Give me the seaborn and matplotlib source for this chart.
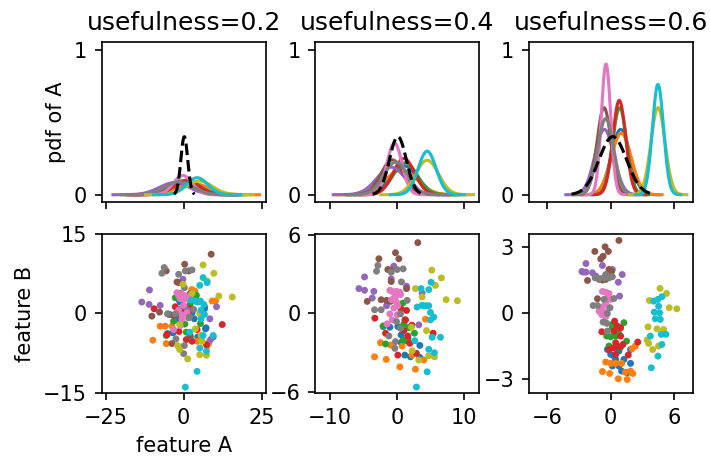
import numpy as np
import pandas as pd
import matplotlib
matplotlib.use("Agg")
import matplotlib.pyplot as plt
import seaborn as sns

# ---------------- data ----------------
usefulness = [0.2, 0.4, 0.6]
classes = ["c0", "c1", "c2", "c3", "c4", "c5", "c6", "c7", "c8", "c9"]

# class-conditional normal pdf parameters of feature A
means_02 = [1.0, 3.0, 1.0, 1.0, -3.0, -1.0, -0.3, -1.5, 5.0, 4.3]
sds_02 = [4.5, 5.2, 4.2, 4.0, 4.8, 4.2, 3.0, 4.5, 4.2, 3.4]
means_04 = [1.0, 0.6, 1.2, 1.0, -0.9, -0.74, -0.4, -0.2, 4.46, 4.46]
sds_04 = [2.0, 2.35, 1.81, 1.6, 2.1, 1.66, 1.12, 1.77, 1.68, 1.33]
means_06 = [0.94, 1.0, 0.85, 0.81, -0.6, -0.63, -0.44, -0.47, 4.47, 4.47]
sds_06 = [0.886, 0.94, 0.665, 0.614, 0.886, 0.665, 0.443, 0.76, 0.665, 0.525]

# black dashed reference curve: centre, width, peak height
ref_mean = [0.2, 0.1, 0.2]
ref_sd = [1.1, 1.25, 1.3]
ref_peak = [0.4, 0.4, 0.4]

# scatter points (feature A, feature B) per class, usefulness=0.2
blue2 = [(-1.08, 2.14), (-4.52, -0.19), (2.69, 0.13), (6.67, 1.26), (7.2, -2.7), (-3.44, -3.65),
         (4.52, -4.4), (9.46, -4.4), (-2.15, -1.13), (-1.29, 2.33), (6.67, 0.88), (6.99, -2.89),
         (-5.16, -3.77), (1.3, 1.2), (3.4, -1.0)]
orange2 = [(3.62, 4.21), (9.14, 2.33), (10.22, 2.33), (-7.53, -2.39), (-5.91, -2.39), (-9.89, -5.03),
           (-5.59, -5.66), (4.3, -5.22), (8.06, -5.53), (7.53, -6.16), (-3.76, -2.39), (2.6, 4.5)]
green2 = [(-2.69, 2.96), (4.09, 3.4), (2.15, 2.01), (1.08, 0.44), (-3.23, -1.45), (5.38, -1.89),
          (-5.59, -4.15), (0.86, -3.52), (-1.08, 0.75), (3.76, 2.64), (2.15, 1.26), (0.4, -2.0)]
red2 = [(-9.46, 0.88), (-2.69, 1.26), (1.61, -0.19), (-0.22, 0.44), (12.37, -2.08), (-5.38, -3.96),
        (0.86, -4.91), (2.69, -5.22), (7.31, -5.85), (4.3, -3.02), (2.0, 0.9), (-1.5, -3.4)]
purple2 = [(-10.97, 4.4), (-13.44, 2.14), (-11.08, 1.7), (-7.53, 1.51), (-0.22, 6.42), (-1.08, 3.77),
           (3.76, 2.33), (10.54, 1.26), (8.39, -1.01), (1.08, 0.63), (8.6, -4.91)]
brown2 = [(8.82, 11.13), (0.32, 9.25), (-5.59, 7.99), (1.61, 7.99), (-2.15, 5.91), (2.15, 3.77),
          (-10.2, -0.5), (-7.74, 0.25), (-3.23, -0.38), (-1.08, -0.38), (2.15, -4.28), (-3.76, -5.66),
          (-1.6, 5.8), (-5.0, -0.1)]
pink2 = [(-2.15, 3.9), (-0.54, 3.58), (0.54, 3.14), (-1.08, 2.77), (1.29, 2.64), (0.0, 1.51),
         (-1.61, 0.63), (1.08, 0.13), (-0.54, -1.13), (-3.23, -3.02), (-1.08, -2.26), (0.0, 2.77),
         (0.22, 3.4), (1.61, 3.14), (-1.61, 3.4), (-0.5, -0.3)]
gray2 = [(-6.24, 8.62), (-6.99, 7.55), (-1.61, 7.36), (0.54, 7.99), (2.69, 8.18), (0.22, 4.84),
         (-5.16, -0.06), (-2.69, -0.06), (1.61, -0.82), (-2.47, -4.78), (0.22, -6.04), (0.0, -7.55),
         (3.23, 0.75), (1.94, -0.63)]
olive2 = [(6.24, 9.12), (9.68, 7.55), (7.53, 6.1), (-0.22, 5.47), (2.69, 3.77), (11.29, 3.27),
          (15.59, 3.08), (5.16, 0.0), (-1.29, -2.08), (-1.94, -6.04), (-1.29, -6.79), (1.29, -8.55),
          (5.16, -7.74), (7.31, -7.86), (5.91, -5.22), (5.59, -4.15), (3.76, -2.89)]
cyan2 = [(6.24, 6.73), (7.53, 5.79), (5.16, 5.28), (2.37, 2.52), (4.52, 2.14), (5.59, 0.63),
         (6.67, -0.19), (5.59, -1.01), (6.24, -4.15), (9.46, -4.15), (5.16, -6.48), (7.31, -7.11),
         (4.3, -10.88), (0.54, -13.84), (1.94, -3.52), (6.45, 1.7), (3.76, 2.33), (5.38, 2.33)]

# usefulness=0.4
blue4 = [(-2.08, -1.0), (-1.09, -1.05), (0.1, -1.0), (0.59, -2.23), (3.37, -2.44), (1.14, -3.18),
         (1.98, -3.31), (3.37, -3.36), (0.59, -1.64), (1.6, -1.9)]
orange4 = [(4.21, -0.44), (-2.48, -2.23), (-3.37, -3.31), (-1.63, -3.51), (0.4, -4.08), (2.72, -4.26),
           (3.96, -3.56), (0.74, -2.49), (2.23, -3.18), (-0.99, -2.41)]
green4 = [(0.84, 0.79), (1.14, -0.49), (-2.08, -0.95), (0.5, -1.08), (1.73, -1.08), (2.57, -1.51),
          (0.89, -2.03), (-1.73, -2.33), (1.39, -2.08), (1.0, -0.8)]
red4 = [(0.59, 0.33), (1.39, 0.23), (-3.32, -0.36), (1.24, -0.49), (1.58, -1.72), (0.99, -1.31),
        (-1.73, -1.51), (0.1, -3.18), (2.87, -3.05), (5.35, -1.51), (1.88, -2.28), (2.2, -0.9)]
purple4 = [(-4.85, 2.79), (-5.69, 1.9), (-4.85, 1.77), (-3.47, 1.69), (-3.71, 1.18), (-0.5, 3.62),
           (-0.89, 2.64), (1.39, 2.08), (3.71, 1.56), (3.22, -0.87), (-1.58, 0.59)]
brown4 = [(3.07, 5.41), (-0.25, 4.64), (0.25, 4.18), (-2.72, 4.18), (-1.39, 3.36), (-0.99, 3.31),
          (-0.89, 2.44), (1.39, 1.9), (-4.46, 0.92), (-2.38, 1.05), (-1.58, 1.0), (-0.99, 0.92)]
pink4 = [(-1.09, 1.77), (-0.4, 1.51), (0.1, 1.51), (0.5, 1.44), (-0.84, 1.05), (-0.1, 0.85),
         (-0.5, 0.41), (-1.09, -0.03), (-0.74, -0.49), (-1.49, -0.79), (0.0, -0.1), (0.1, 0.59),
         (-0.74, 1.69), (-0.1, 1.69), (0.4, 1.62), (-0.3, 1.2)]
gray4 = [(-2.87, 3.67), (-3.07, 3.23), (-0.89, 3.15), (0.0, 3.36), (0.89, 3.41), (0.64, 2.41),
         (1.49, 1.0), (-3.37, 0.28), (-2.38, 0.28), (0.5, -0.03), (-0.1, -0.62), (-1.24, -1.72),
         (-0.25, -2.15), (-0.35, -2.67), (0.5, -1.13)]
olive4 = [(5.15, 3.31), (6.58, 2.72), (5.69, 2.15), (2.72, 1.9), (3.71, 1.26), (7.28, 1.05),
          (8.96, 0.97), (4.36, -1.31), (2.13, -1.05), (3.22, -3.56), (4.7, -3.23), (5.54, -3.31),
          (2.23, -2.85)]
cyan4 = [(3.56, 1.9), (4.7, 1.82), (5.05, 2.38), (3.71, 0.62), (4.7, 0.59), (4.95, 0.08),
         (5.45, -0.28), (4.95, -0.49), (5.2, -1.82), (6.44, -1.82), (2.62, -2.08), (4.7, -2.74),
         (5.54, -3.0), (4.46, -4.46), (2.87, -5.62), (2.97, 0.49), (3.96, 0.59), (4.36, 0.59)]

# usefulness=0.6
blue6 = [(-0.31, -1.64), (0.0, -1.86), (0.31, -1.94), (0.78, -1.71), (1.875, -1.64), (0.16, -2.39),
         (0.78, -2.39), (1.875, -2.27), (1.03, -2.62), (1.56, -2.7), (0.47, -2.09), (1.25, -2.09)]
orange6 = [(2.34, -1.48), (2.03, -1.6), (-0.47, -2.21), (0.0, -2.27), (0.47, -2.27), (1.03, -2.27),
           (-0.78, -2.64), (-0.09, -2.73), (0.72, -2.97), (1.56, -3.0), (1.41, -2.67), (2.09, -2.73),
           (1.875, -2.62)]
green6 = [(0.16, -0.5), (1.25, -0.42), (-0.375, -1.03), (0.0, -1.06), (0.47, -1.03), (1.5, -1.26),
          (0.94, -1.53), (-0.16, -1.48), (0.16, -0.65), (0.72, -0.88)]
red6 = [(0.375, -0.35), (0.625, -0.58), (0.94, -0.65), (-0.84, -0.83), (0.31, -0.8), (0.94, -1.03),
        (0.47, -1.33), (1.16, -1.41), (0.31, -1.56), (0.47, -1.86), (1.66, -1.89), (2.56, -1.3),
        (0.875, -1.52), (-0.16, -1.64)]
purple6 = [(-2.34, 2.27), (-2.72, 1.91), (-2.34, 1.88), (-1.72, 1.85), (-0.78, 2.18), (0.16, 2.0),
           (1.09, 1.77), (0.72, 1.42), (0.84, 0.79), (-1.4, 1.7), (-0.84, 1.58), (0.0, 1.77), (-2.6, 1.88)]
brown6 = [(0.78, 3.32), (-1.5, 2.82), (-0.53, 3.03), (-0.22, 2.82), (-0.72, 2.6), (-0.94, 2.48),
          (0.09, 1.92), (-2.19, 1.5), (-1.1, 1.55), (-0.78, 1.52), (-1.25, 0.67), (-0.47, 1.55), (-0.16, 2.0)]
pink6 = [(-0.78, 1.0), (-0.47, 0.97), (-0.16, 0.91), (-0.31, 0.71), (-0.47, 0.48), (-0.78, 0.3),
         (-1.1, 0.1), (-0.63, 0.06), (-0.16, 0.26), (-0.47, -0.15), (-0.84, -0.05), (0.0, 0.64)]
gray6 = [(-1.47, 1.62), (-1.1, 1.58), (-0.625, 1.62), (-0.16, 1.62), (0.16, 1.67), (-0.47, 1.77),
         (-0.63, 0.64), (0.31, 0.68), (-1.66, 0.36), (-1.25, 0.36), (-0.06, 0.26), (-0.31, 0.0),
         (-0.72, -0.39), (-0.375, -0.45), (-0.31, -0.8)]
olive6 = [(4.66, 1.14), (5.28, 0.91), (3.66, 0.59), (5.53, 0.26), (6.25, 0.21), (3.53, -0.61),
          (4.375, -0.7), (3.44, -1.21), (3.59, -1.36), (3.97, -1.64), (4.53, -1.48), (5.0, -0.73)]
cyan6 = [(4.06, 0.56), (4.47, 0.64), (4.84, 0.76), (4.12, 0.06), (4.625, 0.03), (4.22, -0.24),
         (4.69, -0.27), (3.75, -1.03), (4.78, -0.95), (5.22, -0.95), (4.84, -1.41), (4.47, -1.94),
         (3.84, -2.47), (4.53, 0.33)]

# axis settings
xlims = [26.3, 12.2, 7.75]
xticks = [[-25, 0, 25], [-10, 0, 10], [-6, 0, 6]]
blims = [15.0, 6.1, 3.63]
bticks = [[-15, 0, 15], [-6, 0, 6], [-3, 0, 3]]

# ---------------- build tables ----------------
pdf_params = [(means_02, sds_02), (means_04, sds_04), (means_06, sds_06)]
points = [
    [blue2, orange2, green2, red2, purple2, brown2, pink2, gray2, olive2, cyan2],
    [blue4, orange4, green4, red4, purple4, brown4, pink4, gray4, olive4, cyan4],
    [blue6, orange6, green6, red6, purple6, brown6, pink6, gray6, olive6, cyan6],
]

curve_rows = []
for p, (ms, ss) in enumerate(pdf_params):
    for c, m, s in zip(classes, ms, ss):
        xs = np.linspace(m - 4.1 * s, m + 4.1 * s, 300)
        ys = np.exp(-0.5 * ((xs - m) / s) ** 2) / (s * np.sqrt(2 * np.pi))
        for xv, yv in zip(xs, ys):
            curve_rows.append((usefulness[p], c, xv, yv))
curves = pd.DataFrame(curve_rows, columns=["usefulness", "cls", "A", "pdf"])

ref_rows = []
for p in range(3):
    m, s, h = ref_mean[p], ref_sd[p], ref_peak[p]
    xs = np.linspace(m - 3 * s, m + 3 * s, 200)
    for xv in xs:
        ref_rows.append((usefulness[p], xv, h * np.exp(-0.5 * ((xv - m) / s) ** 2)))
ref = pd.DataFrame(ref_rows, columns=["usefulness", "A", "pdf"])

pt_rows = []
for p in range(3):
    for c, pts in zip(classes, points[p]):
        for a, b in pts:
            pt_rows.append((usefulness[p], c, a, b))
scatter = pd.DataFrame(pt_rows, columns=["usefulness", "cls", "A", "B"])

palette = dict(zip(classes, sns.color_palette("tab10", 10)))

# ---------------- plot ----------------
DPI = 150
fig, axes = plt.subplots(2, 3, figsize=(710 / DPI, 456 / DPI), dpi=DPI, sharex="col")
fig.subplots_adjust(left=0.1432, right=0.9756, top=0.9072, bottom=0.1375,
                    wspace=0.302, hspace=0.198)

for p, u in enumerate(usefulness):
    ax = axes[0, p]
    sns.lineplot(data=curves[curves.usefulness == u], x="A", y="pdf", hue="cls",
                 palette=palette, hue_order=classes, estimator=None, sort=False,
                 legend=False, lw=1.5, ax=ax)
    sns.lineplot(data=ref[ref.usefulness == u], x="A", y="pdf", color="black",
                 linestyle="--", estimator=None, sort=False, lw=1.5, ax=ax)
    ax.set_ylim(-0.05, 1.05)
    ax.set_yticks([0, 1])
    ax.set_title(f"usefulness={u}", fontsize=12)
    ax.set_xlabel("")
    ax.set_ylabel("")

    ax2 = axes[1, p]
    sns.scatterplot(data=scatter[scatter.usefulness == u], x="A", y="B", hue="cls",
                    palette=palette, hue_order=classes, s=11, linewidth=0,
                    legend=False, ax=ax2)
    ax2.set_xlim(-xlims[p], xlims[p])
    ax2.set_xticks(xticks[p])
    ax2.set_ylim(-blims[p], blims[p])
    ax2.set_yticks(bticks[p])
    ax2.set_xlabel("")
    ax2.set_ylabel("")

for ax in axes[0]:
    ax.tick_params(labelbottom=False)

axes[0, 0].set_ylabel("pdf of A")
axes[1, 0].set_ylabel("feature B")
axes[1, 0].set_xlabel("feature A")

fig.savefig("out.png", dpi=DPI)
